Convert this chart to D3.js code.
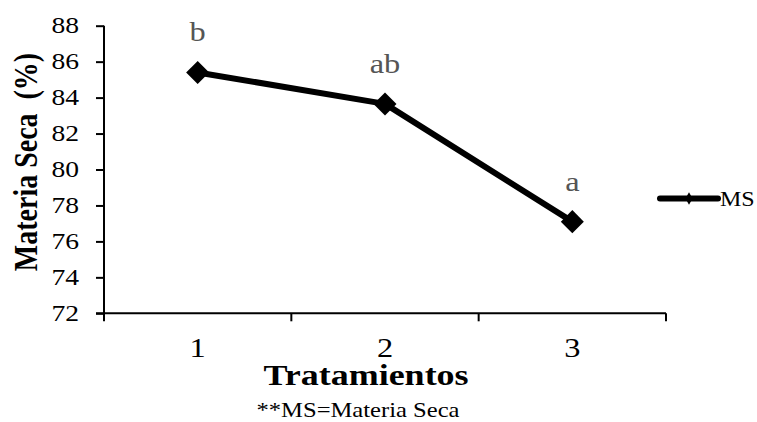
<!DOCTYPE html>
<html><head><meta charset="utf-8">
<script src="https://cdn.jsdelivr.net/npm/d3@7"></script>
<style>body{margin:0;background:#fff}svg{display:block}
text{font-family:"Liberation Serif","Times New Roman",Tinos,"DejaVu Serif",serif}</style>
</head><body>
<svg id="c" width="757" height="422"></svg>
<script>
const categories = ["1","2","3"];
const msValues = [85.4, 83.65, 77.1];
const letters = ["b","ab","a"];
const yTicks = [72,74,76,78,80,82,84,86,88];
const seriesName = "MS";

(function(){
const svg = d3.select("#c");
const SX = 1.2; // horizontal stretch of the reference's text
const pLeft = 104, pRight = 666, pTop = 25.7, pBottom = 313.3;

const x = d3.scaleBand().domain(categories).range([pLeft, pRight]).paddingInner(0).paddingOuter(0);
const y = d3.scaleLinear().domain([72, 88]).range([pBottom, pTop]);

function txt(px, py, s, opts) {
  const t = svg.append("text")
    .attr("transform", `translate(${px},${py}) scale(${SX},1)${opts.rot ? " rotate(" + opts.rot + ")" : ""}`)
    .attr("text-anchor", opts.anchor || "middle")
    .style("font-size", opts.size + "px")
    .style("font-weight", opts.bold ? "bold" : "normal")
    .style("white-space", "pre")
    .attr("fill", opts.fill || "#000")
    .text(s);
  return t;
}

// y axis
const ya = svg.append("g").attr("transform", `translate(${pLeft},0)`)
  .call(d3.axisLeft(y).tickValues(yTicks).tickSize(8).tickPadding(0).tickFormat(d3.format("d")));
ya.attr("font-family", null);
ya.select(".domain").attr("stroke","#000").attr("stroke-width",2).attr("d", `M0,${pTop}V${pBottom}`);
ya.selectAll(".tick line").attr("stroke","#000").attr("stroke-width",2);
ya.selectAll(".tick text").style("font-size","23px").attr("fill","#000")
  .attr("x", 0).attr("dy", "0.3em")
  .attr("transform", `translate(-25,0) scale(${SX},1)`);

// x axis
const xa = svg.append("g").attr("transform", `translate(0,${pBottom})`)
  .call(d3.axisBottom(x).tickSize(0).tickPadding(0));
xa.attr("font-family", null);
xa.select(".domain").attr("stroke","#000").attr("stroke-width",2).attr("d", `M${pLeft-8},0H${pRight}`);
xa.selectAll(".tick text").style("font-size","27px").attr("fill","#000")
  .attr("y", 0).attr("dy", 0)
  .attr("transform", `translate(0,${356.5 - pBottom}) scale(${SX},1)`);
const bounds = categories.map(c => x(c)).concat([pRight]);
xa.selectAll(".btick").data(bounds).enter().append("line")
  .attr("x1", d=>d).attr("x2", d=>d).attr("y1",0).attr("y2",8)
  .attr("stroke","#000").attr("stroke-width",2);

const cx = c => x(c) + x.bandwidth()/2;

const line = d3.line().x((d,i)=>cx(categories[i])).y(d=>y(d));
svg.append("path").datum(msValues).attr("d", line)
  .attr("fill","none").attr("stroke","#000").attr("stroke-width",6).attr("stroke-linejoin","round");

const diamond = d3.symbol(d3.symbolSquare, 265);
svg.selectAll(".pt").data(msValues).enter().append("path")
  .attr("d", diamond)
  .attr("transform", (d,i)=>`translate(${cx(categories[i])},${y(d)}) rotate(45)`)
  .attr("fill","#000");

msValues.forEach((v,i) => {
  txt(cx(categories[i]), y(v) - 31, letters[i], {size: 27, fill: "#555"});
});

// legend
svg.append("line").attr("x1",660).attr("x2",718).attr("y1",198.5).attr("y2",198.5)
  .attr("stroke","#000").attr("stroke-width",6).attr("stroke-linecap","round");
svg.append("path").attr("d", d3.symbol(d3.symbolDiamond, 45))
  .attr("transform","translate(689,198.5)").attr("fill","#000");
txt(720, 206, seriesName, {size: 20, anchor: "start"});

// titles
txt(37, 162, "Materia Seca  (%)", {size: 28, bold: true, rot: -90});
txt(366, 385, "Tratamientos", {size: 30, bold: true});
txt(358, 417, "**MS=Materia Seca", {size: 20.5});
})();
</script>
</body></html>
